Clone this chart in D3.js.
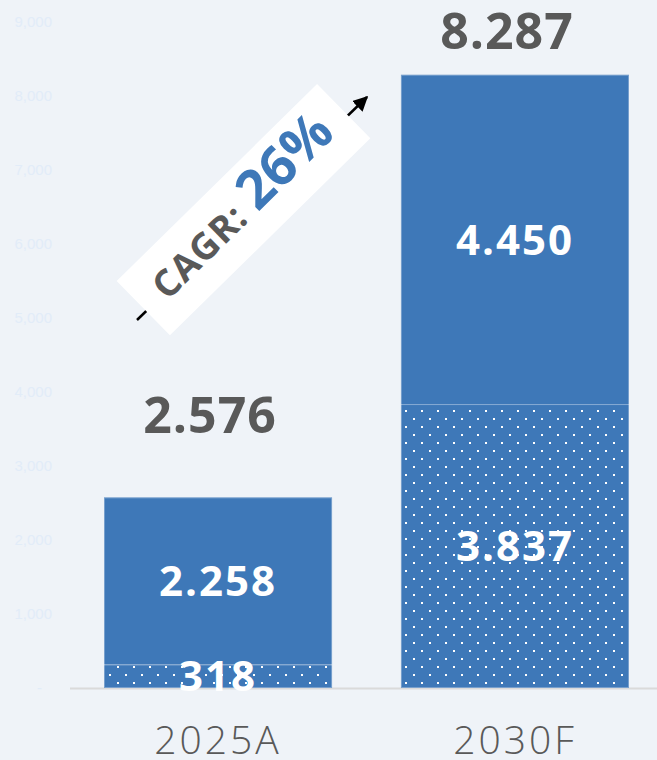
<!DOCTYPE html>
<html>
<head>
<meta charset="utf-8">
<script src="https://cdn.jsdelivr.net/npm/d3@7"></script>
<style>
  html, body { margin: 0; padding: 0; background: #eff3f8; }
  svg { display: block; font-family: 'Open Sans', 'Liberation Sans', sans-serif; }
</style>
</head>
<body>
<svg id="chart" width="657" height="760"></svg>
<script>
const categories = ['2025A', '2030F']
// dotted lower segment, solid upper segment
const baseValues = [318, 3837]
const topValues = [2258, 4450]
const totals = [2576, 8287]
const yTicks = [0, 1000, 2000, 3000, 4000, 5000, 6000, 7000, 8000, 9000]
const cagrText = ['CAGR: ', '26%']

const W = 657
const BLUE = '#3e78b8'
const GREY = '#595959'

const fmt = v => d3.format(',')(v).replace(/,/g, '.')

const svg = d3.select('#chart')

const x = d3.scaleBand()
  .domain(categories)
  .range([104, 629])
  .paddingInner(0.232)
  .paddingOuter(0)

const y = d3.scaleLinear()
  .domain([0, 9000])
  .range([688, 22])

// dot pattern, aligned to page coords
const defs = svg.append('defs')
const pattern = defs.append('pattern')
  .attr('id', 'dots')
  .attr('patternUnits', 'userSpaceOnUse')
  .attr('width', 16)
  .attr('height', 16)
pattern.append('rect').attr('width', 16).attr('height', 16).attr('fill', BLUE)
pattern.append('rect').attr('x', 5).attr('y', 10).attr('width', 2).attr('height', 2).attr('fill', '#fff')
pattern.append('rect').attr('x', 13).attr('y', 2).attr('width', 2).attr('height', 2).attr('fill', '#fff')

// y axis, barely visible
const yAxis = d3.axisLeft(y)
  .tickValues(yTicks)
  .tickSize(0)
  .tickPadding(0)
  .tickFormat(v => v === 0 ? '-' : d3.format(',')(v))
const gy = svg.append('g')
  .attr('transform', 'translate(52,0)')
  .call(yAxis)
gy.select('.domain').remove()
gy.selectAll('text')
  .attr('fill', '#e2ecf8')
  .style('font-family', "'Liberation Sans', Arial, sans-serif")
  .style('font-size', '15px')
gy.selectAll('.tick')
  .filter(d => d === 0)
  .select('text')
  .attr('dx', -10)

// baseline
svg.append('line')
  .attr('x1', 70)
  .attr('x2', W)
  .attr('y1', y(0) + 0.5)
  .attr('y2', y(0) + 0.5)
  .attr('stroke', '#dadada')
  .attr('stroke-width', 2)

// bars
const bars = svg.selectAll('.bar')
  .data(categories)
  .enter()
  .append('g')
  .classed('bar', true)

bars.append('rect')
  .attr('x', d => x(d))
  .attr('width', x.bandwidth())
  .attr('y', (d, i) => y(baseValues[i]))
  .attr('height', (d, i) => y(0) - y(baseValues[i]))
  .attr('fill', 'url(#dots)')

bars.append('rect')
  .attr('x', d => x(d))
  .attr('width', x.bandwidth())
  .attr('y', (d, i) => y(baseValues[i] + topValues[i]))
  .attr('height', (d, i) => y(baseValues[i]) - y(baseValues[i] + topValues[i]))
  .attr('fill', BLUE)

// outline + segment divider
bars.append('rect')
  .attr('x', d => x(d) + 0.5)
  .attr('width', x.bandwidth() - 1)
  .attr('y', (d, i) => y(totals[i]) + 0.5)
  .attr('height', (d, i) => y(0) - y(totals[i]) - 1)
  .attr('fill', 'none')
  .attr('stroke', 'rgba(255,255,255,0.3)')
bars.append('line')
  .attr('x1', d => x(d))
  .attr('x2', d => x(d) + x.bandwidth())
  .attr('y1', (d, i) => y(baseValues[i]) + 0.5)
  .attr('y2', (d, i) => y(baseValues[i]) + 0.5)
  .attr('stroke', 'rgba(255,255,255,0.35)')

// inside labels
const innerLabel = (sel, vals, lows) => sel.append('text')
  .attr('x', d => x(d) + x.bandwidth() / 2)
  .attr('y', (d, i) => (y(lows[i]) + y(lows[i] + vals[i])) / 2)
  .attr('dy', '0.36em')
  .attr('text-anchor', 'middle')
  .attr('fill', '#fff')
  .style('font-size', '42px')
  .style('font-weight', 700)
  .style('letter-spacing', '2px')
  .text((d, i) => fmt(vals[i]))

innerLabel(bars, baseValues, [0, 0])
innerLabel(bars, topValues, baseValues)

// totals above bars
const totalGap = [64, 26]
bars.append('text')
  .attr('x', d => x(d) + x.bandwidth() / 2 - 8)
  .attr('y', (d, i) => y(totals[i]) - totalGap[i])
  .attr('text-anchor', 'middle')
  .attr('fill', GREY)
  .style('font-size', '50px')
  .style('font-weight', 700)
  .style('letter-spacing', '1px')
  .text((d, i) => fmt(totals[i]))

// category labels
bars.append('text')
  .attr('x', d => x(d) + x.bandwidth() / 2)
  .attr('y', 754)
  .attr('text-anchor', 'middle')
  .attr('fill', GREY)
  .style('font-size', '39px')
  .style('font-weight', 300)
  .style('letter-spacing', '3px')
  .text(d => d)

// CAGR arrow + tilted box
defs.append('marker')
  .attr('id', 'arrow')
  .attr('viewBox', '0 0 10 10')
  .attr('refX', 9)
  .attr('refY', 5)
  .attr('markerWidth', 6)
  .attr('markerHeight', 6)
  .attr('orient', 'auto')
  .append('path')
  .attr('d', 'M0,0L10,5L0,10z')
  .attr('fill', '#000')

svg.append('line')
  .attr('x1', 137)
  .attr('y1', 320)
  .attr('x2', 367)
  .attr('y2', 97)
  .attr('stroke', '#000')
  .attr('stroke-width', 2.5)
  .attr('marker-end', 'url(#arrow)')

const badge = svg.append('g')
  .attr('transform', 'translate(243.5,209.7) rotate(-44.5)')
badge.append('rect')
  .attr('x', -140.5)
  .attr('y', -38)
  .attr('width', 281)
  .attr('height', 76)
  .attr('fill', '#fff')
const t = badge.append('text')
  .attr('x', 0)
  .attr('y', 12)
  .attr('text-anchor', 'middle')
  .style('font-weight', 700)
t.append('tspan')
  .attr('fill', GREY)
  .style('font-size', '37px')
  .style('letter-spacing', '1px')
  .text(cagrText[0])
t.append('tspan')
  .attr('fill', BLUE)
  .style('font-size', '54px')
  .text(cagrText[1])
</script>
</body>
</html>
